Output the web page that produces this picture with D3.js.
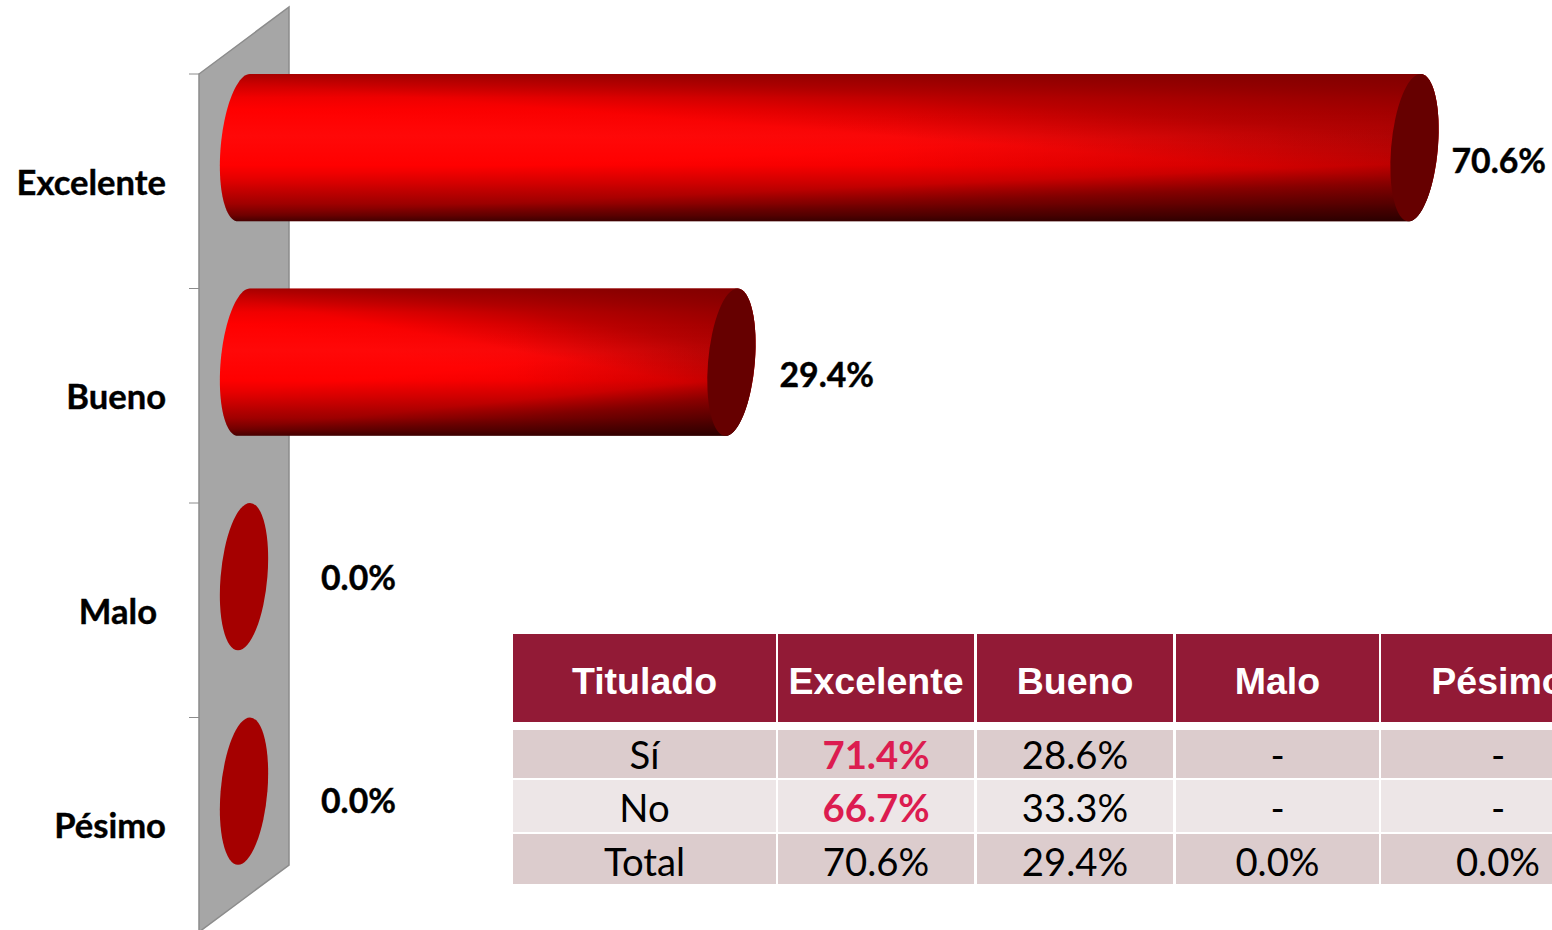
<!DOCTYPE html>
<html><head><meta charset="utf-8">
<script src="https://cdn.jsdelivr.net/npm/d3@7/dist/d3.min.js"></script>
<style>html,body{margin:0;padding:0;background:#fff;overflow:hidden}svg{display:block}</style>
</head><body><div id="chart"></div>
<script>
const categories = ["Excelente", "Bueno", "Malo", "Pésimo"];
const values = [70.6, 29.4, 0.0, 0.0];
const valueLabels = ["70.6%", "29.4%", "0.0%", "0.0%"];
const tableHeader = ["Titulado", "Excelente", "Bueno", "Malo", "Pésimo"];
const rowSi = ["Sí", "71.4%", "28.6%", "-", "-"];
const rowNo = ["No", "66.7%", "33.3%", "-", "-"];
const rowTotal = ["Total", "70.6%", "29.4%", "0.0%", "0.0%"];

const W = 1552, H = 930;
const svg = d3.select("#chart").append("svg").attr("width", W).attr("height", H).attr("viewBox", `0 0 ${W} ${H}`);
const defs = svg.append("defs");
const LATO = "Lato, Carlito, sans-serif";

const x = d3.scaleLinear().domain([0, 70.6]).range([244, 1414.5]);
const y = d3.scaleBand().domain(categories).range([74, 932]);
const barH = y.bandwidth() * 0.687;
const rx = 23.4, shear = 6;

// back wall
svg.append("path").attr("d", d3.line()([[199, 74], [289, 7], [289, 865], [199, 932]]) + "Z")
  .attr("fill", "#a6a6a6").attr("stroke", "#8c8c8c").attr("stroke-width", 1.5);
// ticks
svg.append("g").selectAll("line").data(categories).join("line")
  .attr("x1", 189).attr("x2", 199).attr("y1", d => y(d)).attr("y2", d => y(d))
  .attr("stroke", "#8c8c8c").attr("stroke-width", 1);

// gradients
function grad(id, v, stops, color) {
  const g = defs.append("linearGradient").attr("id", id)
    .attr("x1", v[0]).attr("y1", v[1]).attr("x2", v[2]).attr("y2", v[3]);
  stops.forEach(s => {
    const st = g.append("stop").attr("offset", s[0]);
    if (color) st.attr("stop-color", color).attr("stop-opacity", s[1]);
    else st.attr("stop-color", s[1]);
  });
}
grad("cylV", [0, 0, 0, 1], [[0, "#b00000"], [0.05, "#c80000"], [0.16, "#f40000"], [0.24, "#ff0000"], [0.42, "#ff0808"], [0.62, "#ff0000"], [0.74, "#dc0000"], [0.88, "#aa0000"], [0.96, "#780000"], [1, "#500000"]]);
grad("cylH", [0, 0, 1, 0], [[0, 0], [0.55, 0], [1, 0.12]], "#000");
grad("cylTR", [0.33, 0.45, 0.735, -0.15], [[0, 0], [0.2, 0.05], [0.53, 0.5], [1, 0.9]], "#800000");
grad("cylBR", [0.3, 0.6, 0.5, 1.15], [[0, 0], [0.4, 0.1], [0.6, 0.35], [1, 0.7]], "#200000");

function capPoint(cx, cy, t) {
  return [cx + rx * Math.cos(t) - shear * Math.sin(t), cy + (barH / 2) * Math.sin(t)];
}
function bodyPath(d, i) {
  const cy = y(d) + barH / 2, x0 = x(0), x1 = x(values[i]);
  const pts = [];
  d3.range(-90, 91, 4).forEach(a => pts.push(capPoint(x1, cy, a * Math.PI / 180)));
  d3.range(90, 271, 4).forEach(a => pts.push(capPoint(x0, cy, a * Math.PI / 180)));
  return d3.line()(pts) + "Z";
}
const capT = (cat, i) => `translate(${x(values[i])},${y(cat) + barH / 2}) skewX(${-Math.atan(shear / (barH / 2)) * 180 / Math.PI})`;

const bars = svg.append("g").selectAll("g").data(categories).join("g");
const nonZero = bars.filter((d, i) => values[i] > 0);
["cylV", "cylH", "cylTR", "cylBR"].forEach(id => {
  nonZero.append("path").attr("d", d => bodyPath(d, categories.indexOf(d))).attr("fill", `url(#${id})`);
});
bars.append("ellipse").attr("rx", rx).attr("ry", barH / 2)
  .attr("transform", d => capT(d, categories.indexOf(d)))
  .attr("fill", d => values[categories.indexOf(d)] > 0 ? "#660000" : "#a50000");

// category labels
const catRight = [166, 166, 157, 166];
svg.append("g").selectAll("text").data(categories).join("text")
  .attr("x", (d, i) => catRight[i]).attr("y", d => y(d) + 112)
  .attr("dominant-baseline", "middle").attr("text-anchor", "end")
  .attr("font-family", LATO).attr("font-weight", 700).attr("font-size", 34.6).attr("fill", "#000")
  .attr("stroke", "#000").attr("stroke-width", 0.4)
  .text(d => d);

// value labels
const labelDx = [37, 48, 77, 77], labelDy = [90, 90, 78, 87];
svg.append("g").selectAll("text").data(valueLabels).join("text")
  .attr("x", (d, i) => x(values[i]) + labelDx[i]).attr("y", (d, i) => y(categories[i]) + labelDy[i])
  .attr("dominant-baseline", "middle")
  .attr("font-family", LATO).attr("font-weight", 700).attr("font-size", 33.8).attr("fill", "#000")
  .attr("stroke", "#000").attr("stroke-width", 0.4)
  .text(d => d);

// table
const colEdges = [[513, 776], [778, 974], [977, 1173], [1176, 1379], [1381, 1615]];
const rowEdges = [[634, 722], [730, 778], [780, 832], [834, 884]];
const rowTextDy = [6, 5, 6, 7];
const rows = [tableHeader, rowSi, rowNo, rowTotal];
const rowFill = ["#921a36", "#dccccd", "#ede6e7", "#dccccd"];
const t = svg.append("g");
rows.forEach((row, r) => {
  const g = t.append("g");
  g.selectAll("rect").data(row).join("rect")
    .attr("x", (d, c) => colEdges[c][0]).attr("width", (d, c) => colEdges[c][1] - colEdges[c][0])
    .attr("y", rowEdges[r][0]).attr("height", rowEdges[r][1] - rowEdges[r][0])
    .attr("fill", rowFill[r]);
  g.selectAll("text").data(row).join("text")
    .attr("x", (d, c) => (colEdges[c][0] + colEdges[c][1]) / 2)
    .attr("y", (rowEdges[r][0] + rowEdges[r][1]) / 2 + rowTextDy[r])
    .attr("dominant-baseline", "middle").attr("text-anchor", "middle")
    .attr("font-family", r === 0 ? "'Liberation Sans', Arial, sans-serif" : LATO)
    .attr("font-weight", (d, c) => r === 0 || ((r === 1 || r === 2) && c === 1) ? 700 : 400)
    .attr("font-size", r === 0 ? 37.5 : 38.3)
    .attr("fill", (d, c) => r === 0 ? "#fff" : ((r === 1 || r === 2) && c === 1) ? "#dc1c50" : "#000")
    .text(d => d);
});
</script></body></html>
